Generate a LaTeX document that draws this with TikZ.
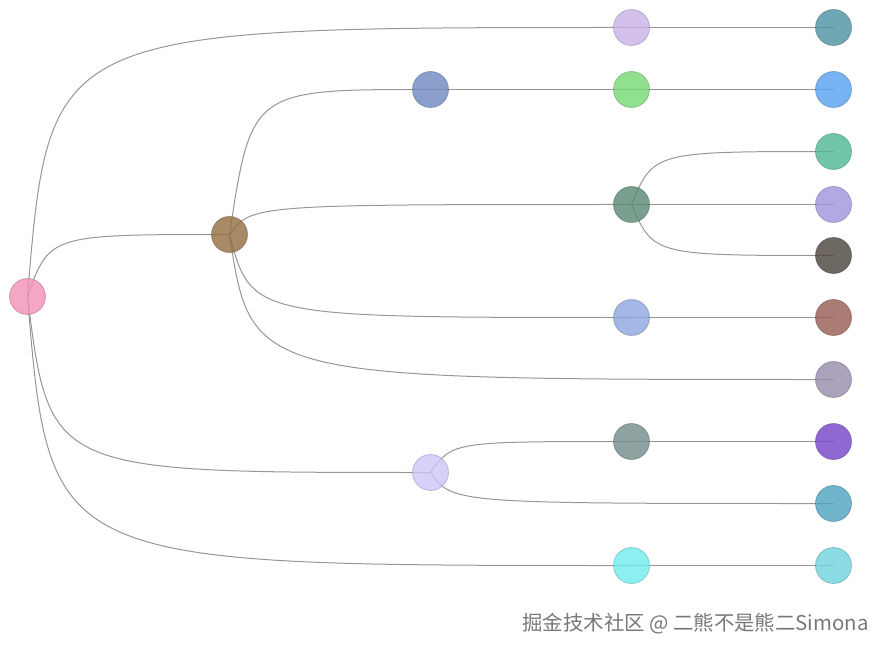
\documentclass[tikz,border=0pt]{standalone}
\usepackage{fontspec}
\newfontfamily\cjkfont{Noto Sans CJK SC}
\usetikzlibrary{backgrounds,calc}
% node colours (before 80% opacity)
\definecolor{cRoot}{RGB}{241,144,181}
\definecolor{cBrown}{RGB}{146,110,64}
\definecolor{cSlate}{RGB}{109,135,191}
\definecolor{cLavender}{RGB}{206,196,246}
\definecolor{cLilac}{RGB}{201,176,231}
\definecolor{cGreen}{RGB}{116,216,116}
\definecolor{cPine}{RGB}{88,136,114}
\definecolor{cSky}{RGB}{140,166,221}
\definecolor{cSage}{RGB}{114,139,139}
\definecolor{cAqua}{RGB}{111,236,236}
\definecolor{cTeal}{RGB}{75,146,161}
\definecolor{cAzure}{RGB}{86,161,241}
\definecolor{cMint}{RGB}{79,184,146}
\definecolor{cIris}{RGB}{161,146,221}
\definecolor{cCoal}{RGB}{74,66,59}
\definecolor{cRust}{RGB}{149,91,81}
\definecolor{cMauve}{RGB}{150,139,171}
\definecolor{cViolet}{RGB}{116,66,201}
\definecolor{cOcean}{RGB}{76,161,191}
\definecolor{cIce}{RGB}{111,211,221}
\definecolor{cLink}{RGB}{150,150,150}
\definecolor{cMarkText}{RGB}{120,120,120}

\begin{document}
\begin{tikzpicture}[
    x=0.75pt, y=-0.75pt,
    bubble/.style={circle, minimum size=27pt, inner sep=0pt, fill=#1, fill opacity=0.8, draw=#1!70!black, draw opacity=0.5, line width=0.6pt},
    link/.style={draw=cLink, line width=0.75pt},
    watermark/.style={font=\cjkfont\fontsize{15.3pt}{18pt}\selectfont, text=cMarkText, inner sep=0pt}
]
\useasboundingbox (0,0) rectangle (888,652);
% level 0 and 1
\node[bubble=cRoot] (root) at (27.5,296.5) {};
\node[bubble=cBrown] (brown) at (229.5,234.5) {};
% level 2
\node[bubble=cSlate] (slate) at (430.5,89.5) {};
\node[bubble=cLavender] (lav) at (430.5,472.5) {};
% level 3
\node[bubble=cLilac] (lilac) at (631.5,27.5) {};
\node[bubble=cGreen] (green) at (631.5,89.5) {};
\node[bubble=cPine] (pine) at (631.5,204.5) {};
\node[bubble=cSky] (sky) at (631.5,317.5) {};
\node[bubble=cSage] (sage) at (631.5,441.5) {};
\node[bubble=cAqua] (aqua) at (631.5,565.5) {};
% leaves
\node[bubble=cTeal] (teal) at (833.5,27.5) {};
\node[bubble=cAzure] (azure) at (833.5,89.5) {};
\node[bubble=cMint] (mint) at (833.5,151.5) {};
\node[bubble=cIris] (iris) at (833.5,204.5) {};
\node[bubble=cCoal] (coal) at (833.5,255.5) {};
\node[bubble=cRust] (rust) at (833.5,317.5) {};
\node[bubble=cMauve] (mauve) at (833.5,379.5) {};
\node[bubble=cViolet] (violet) at (833.5,441.5) {};
\node[bubble=cOcean] (ocean) at (833.5,503.5) {};
\node[bubble=cIce] (ice) at (833.5,565.5) {};

\begin{scope}[on background layer]
\foreach \u/\v in {root/brown, root/lilac, root/lav, root/aqua,
    lilac/teal, brown/slate, slate/green, green/azure,
    brown/pine, pine/mint, pine/iris, pine/coal,
    brown/sky, sky/rust, brown/mauve,
    lav/sage, sage/violet, lav/ocean, aqua/ice}
  \draw[link] (\u.center) .. controls ($(\u.center |- \v.center)+(22,0)$) .. (\v.center);
\end{scope}

\node[watermark, anchor=base east] (credit) at (869,630) {掘金技术社区 @ 二熊不是熊二Simona};
\end{tikzpicture}
\end{document}
